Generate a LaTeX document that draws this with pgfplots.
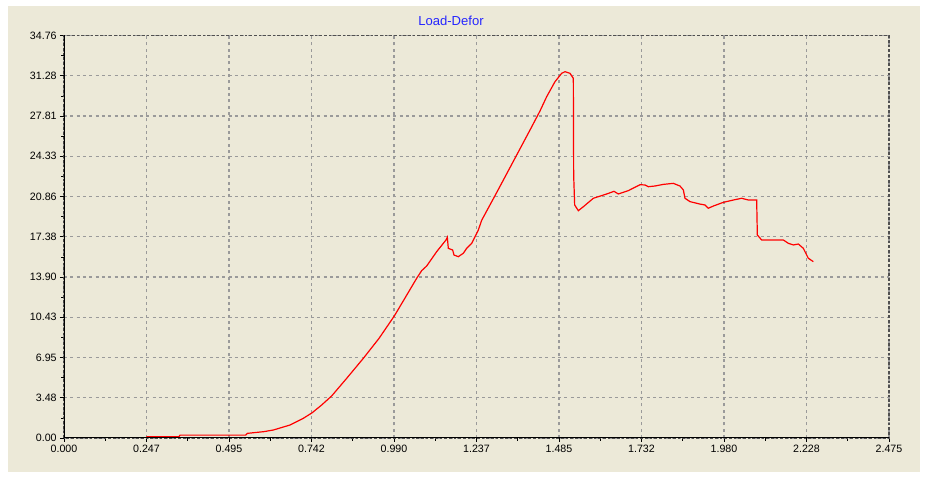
\documentclass[border=0pt]{standalone}
\usepackage{pgfplots}
\pgfplotsset{compat=1.18}
\usepackage{fontspec}
\setmainfont{Liberation Sans}
\definecolor{bg}{HTML}{ECE9D8}
\definecolor{gridc}{HTML}{9A9A9A}
\definecolor{framec}{HTML}{505050}
\begin{document}
\begin{tikzpicture}
\fill[white] (-48pt,-30pt) rectangle (646.5pt,328.5pt);
\fill[bg] (-42pt,-25.5pt) rectangle (642pt,324pt);
\begin{axis}[
  at={(0pt,0pt)}, anchor=south west,
  scale only axis, width=618.75pt, height=301.9pt,
  xmin=0, xmax=2.475, ymin=0, ymax=34.76,
  axis background/.style={fill=bg},
  xtick={0,0.2475,0.495,0.7425,0.99,1.2375,1.485,1.7325,1.98,2.2275,2.475},
  xticklabels={0.000,0.247,0.495,0.742,0.990,1.237,1.485,1.732,1.980,2.228,2.475},
  ytick={0,3.476,6.952,10.428,13.904,17.38,20.856,24.332,27.808,31.284,34.76},
  yticklabels={0.00,3.48,6.95,10.43,13.90,17.38,20.86,24.33,27.81,31.28,34.76},
  minor x tick num=1, minor y tick num=1,
  tick align=outside, xtick pos=lower, ytick pos=left,
  major tick length=3pt, minor tick length=2pt,
  tick style={black, line width=0.5pt},
  grid=major,
  major grid style={gridc, line width=0.85pt, dash pattern=on 2.25pt off 2.5pt},
  axis line style={framec, line width=0.9pt, dash pattern=on 2pt off 1.5pt},
  ticklabel style={font=\fontsize{8}{9}\selectfont, text=black},
  xticklabel style={yshift=1pt},
  yticklabel style={xshift=1pt},
]
\addplot[red, line width=0.9pt] coordinates {
(0.247,0.12) (0.345,0.12) (0.348,0.25) (0.545,0.25) (0.55,0.4) (0.60,0.55)
(0.628,0.69) (0.678,1.12) (0.718,1.70) (0.745,2.19) (0.773,2.85) (0.803,3.63)
(0.848,5.15) (0.898,6.88) (0.945,8.6) (0.991,10.54) (1.028,12.33) (1.058,13.79)
(1.073,14.45) (1.088,14.85) (1.118,16.09) (1.146,17.1) (1.150,17.33) (1.153,16.38)
(1.166,16.23) (1.170,15.8) (1.183,15.66) (1.198,15.95) (1.208,16.38) (1.223,16.8)
(1.243,17.96) (1.253,18.8) (1.30,21.3) (1.35,24.0) (1.40,26.7) (1.428,28.24)
(1.448,29.47) (1.473,30.77) (1.493,31.49) (1.503,31.63) (1.518,31.49) (1.528,31.06)
(1.529,22.7) (1.532,20.12) (1.543,19.63) (1.558,19.97) (1.588,20.7) (1.628,21.07)
(1.650,21.3) (1.663,21.07) (1.693,21.36) (1.728,21.87) (1.743,21.85) (1.753,21.7)
(1.773,21.76) (1.798,21.9) (1.828,21.99) (1.848,21.76) (1.858,21.42) (1.863,20.7)
(1.878,20.41) (1.908,20.2) (1.923,20.12) (1.933,19.84) (1.948,20.03) (1.978,20.35)
(2.008,20.55) (2.033,20.7) (2.053,20.55) (2.078,20.55) (2.080,17.53) (2.093,17.1)
(2.158,17.1) (2.173,16.81) (2.188,16.67) (2.203,16.75) (2.218,16.38) (2.233,15.52)
(2.248,15.23)
};
\draw[black, line width=1.2pt] (rel axis cs:0,1) -- (rel axis cs:0,0) -- (rel axis cs:1,0);
\end{axis}
\node[text=blue!85!white, font=\fontsize{9.8}{11}\selectfont] at (290.25pt,313pt) {Load-Defor};
\pgfresetboundingbox
\useasboundingbox (-48pt,-30pt) rectangle (646.5pt,328.5pt);
\end{tikzpicture}
\end{document}
